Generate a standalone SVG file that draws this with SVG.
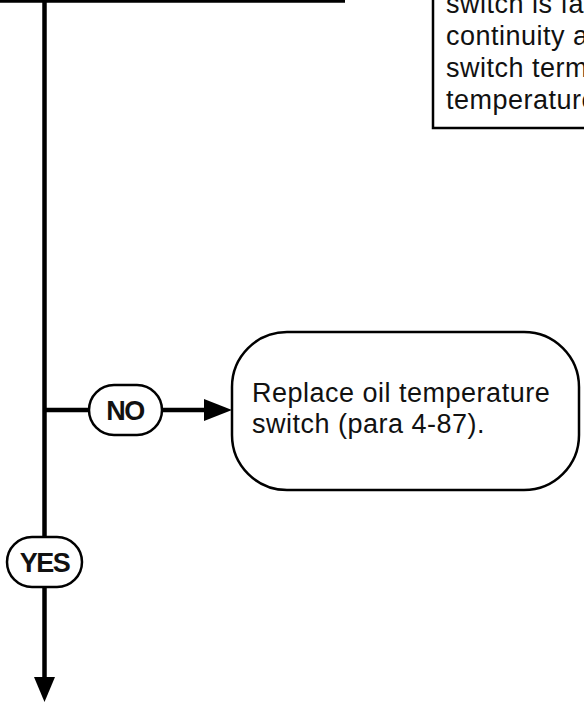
<svg xmlns="http://www.w3.org/2000/svg" width="584" height="708" viewBox="0 0 584 708">
<style>
.ln{stroke:#000;stroke-width:4.5;fill:none}
.box{fill:#fff;stroke:#000;stroke-width:2.5}
.pill{fill:#fff;stroke:#000;stroke-width:2.5}
.t{font-family:"Liberation Sans",Arial,sans-serif;font-size:27px;letter-spacing:0.5px;fill:#111}
.lb{font-family:"Liberation Sans",Arial,sans-serif;font-size:27px;font-weight:bold;letter-spacing:-1.5px;fill:#111;text-anchor:middle}
</style>
<defs>
<marker id="ah" markerWidth="6" markerHeight="5" refX="6" refY="2.5" orient="auto" markerUnits="strokeWidth">
<path d="M0,0 L6,2.5 L0,5 Z" fill="#000"/>
</marker>
</defs>
<rect width="584" height="708" fill="#fff"/>
<g id="connectors">
<line class="ln" x1="0" y1="0.5" x2="345" y2="0.5"/>
<line class="ln" x1="44.5" y1="0" x2="44.5" y2="678"/>
<polygon points="34,677 55,677 44.5,702" fill="#000"/>
<line class="ln" x1="44.5" y1="410" x2="89" y2="410"/>
<line class="ln" x1="162" y1="410" x2="206" y2="410"/>
<polygon points="204,399 232,410 204,421" fill="#000"/>
</g>
<g id="note">
<rect class="box" x="433" y="-40" width="200" height="168"/>
<text class="t" x="446" y="13">switch is fa</text>
<text class="t" x="446" y="45">continuity a</text>
<text class="t" x="446" y="77">switch term</text>
<text class="t" x="446" y="109">temperature</text>
</g>
<g id="no-label">
<rect class="pill" x="89" y="385" width="73" height="50" rx="25"/>
<text class="lb" x="125" y="420">NO</text>
</g>
<g id="replace">
<rect class="box" x="232" y="332" width="347" height="158" rx="55"/>
<text class="t" x="252" y="402">Replace oil temperature</text>
<text class="t" x="252" y="433">switch (para 4-87).</text>
</g>
<g id="yes-label">
<rect class="pill" x="7" y="537" width="75" height="50" rx="25"/>
<text class="lb" x="44.5" y="572">YES</text>
</g>
</svg>
